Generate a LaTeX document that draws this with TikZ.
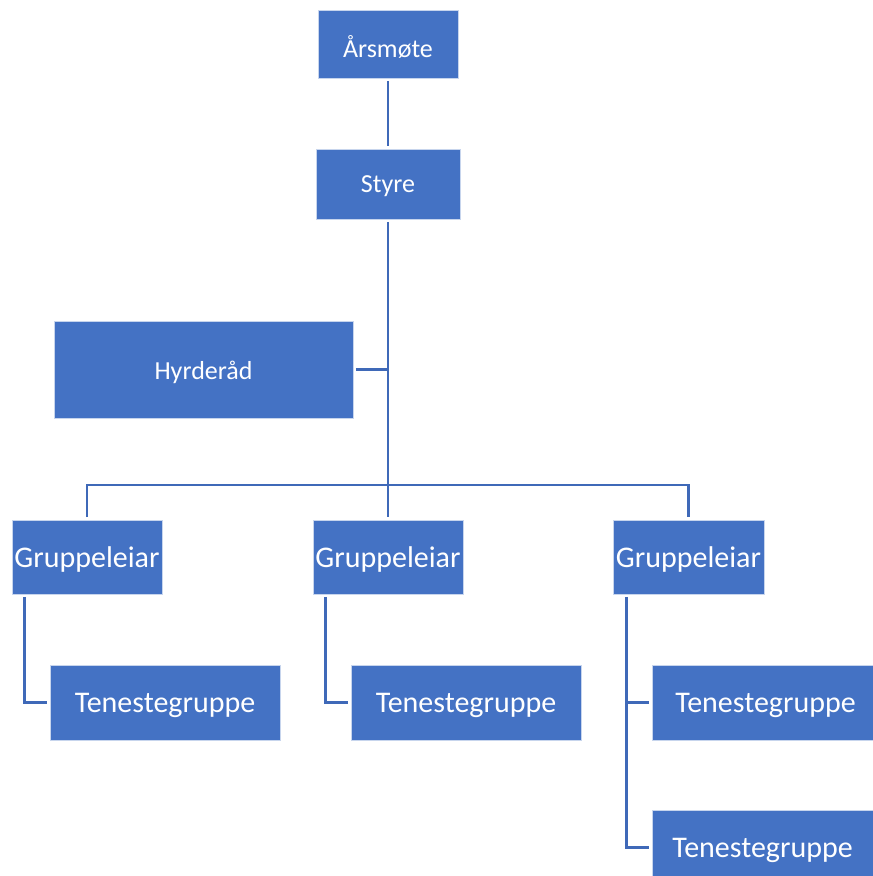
\documentclass[tikz,border=0pt]{standalone}
\usepackage{fontspec}
\setmainfont{Carlito}
\definecolor{boxblue}{HTML}{4472C4}
\definecolor{lineblue}{HTML}{3F69B8}
\newcommand{\dn}[1]{\raisebox{-2.5pt}[\height][\depth]{#1}}
\begin{document}
\begin{tikzpicture}[x=1pt,y=-1pt,
  box/.style={fill=boxblue,draw=white!70!boxblue,line width=0.8pt,text=white,inner sep=0pt,anchor=center},
  smalltxt/.style={font=\fontsize{26}{30}\selectfont},
  bigtxt/.style={font=\fontsize{30}{34}\selectfont},
  conn/.style={draw=lineblue,line width=2.8pt,shorten <=2.5pt,shorten >=2.5pt}]
\useasboundingbox (0,0) rectangle (873,876);
\node[box,smalltxt,minimum width=140pt,minimum height=68pt] (a) at (388,44) {\dn{Årsmøte}};
\node[box,smalltxt,minimum width=144pt,minimum height=70pt] (s) at (388,184) {\dn{Styre}};
\node[box,smalltxt,minimum width=299pt,minimum height=97pt] (h) at (203.5,369.5) {\dn{Hyrderåd}};
\node[box,bigtxt,minimum width=150pt,minimum height=74pt] (g1) at (87,557) {\dn{Gruppeleiar}};
\node[box,bigtxt,minimum width=150pt,minimum height=74pt] (g2) at (388,557) {\dn{Gruppeleiar}};
\node[box,bigtxt,minimum width=151pt,minimum height=74pt] (g3) at (688.5,557) {\dn{Gruppeleiar}};
\node[box,bigtxt,minimum width=230pt,minimum height=75pt] (t1) at (165,702.5) {\dn{Tenestegruppe}};
\node[box,bigtxt,minimum width=230pt,minimum height=75pt] (t2) at (466,702.5) {\dn{Tenestegruppe}};
\node[box,bigtxt,minimum width=221pt,minimum height=75pt] (t3) at (762.5,702.5) {\dn{\hspace{6pt}Tenestegruppe}};
\node[box,bigtxt,minimum width=221pt,minimum height=75pt] (t4) at (762.5,847.5) {\dn{Tenestegruppe}};
\coordinate (bus) at (388,485);
\coordinate (g1l) at ([xshift=13pt]g1.south west);
\coordinate (g2l) at ([xshift=13pt]g2.south west);
\coordinate (g3l) at ([xshift=14pt]g3.south west);
\draw[conn] (a) -- (s);
\draw[conn] (s) -- (g2);
\draw[conn,shorten >=0pt] (h.east) -- (h.east -| s.south);
\draw[conn] (g1.north) |- (bus) -| (g3.north);
\draw[conn] (g1l) |- (t1.west);
\draw[conn] (g2l) |- (t2.west);
\draw[conn] (g3l) |- (t4.west);
\draw[conn,shorten >=0pt] (t3.west) -- (t3.west -| g3l);
\end{tikzpicture}
\end{document}
